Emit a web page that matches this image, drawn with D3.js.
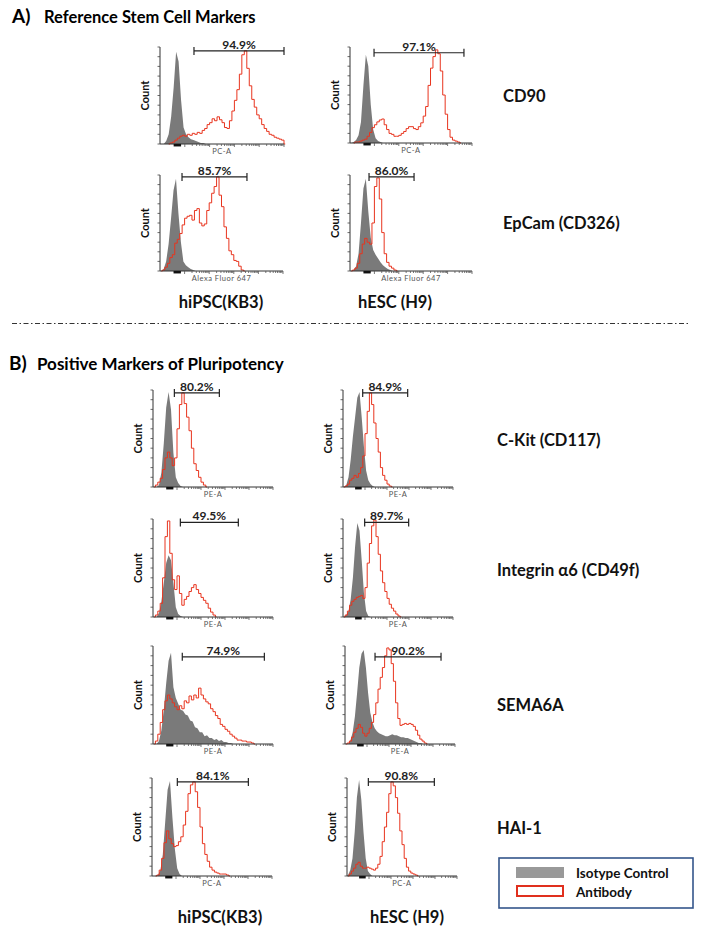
<!DOCTYPE html>
<html><head><meta charset="utf-8">
<script src="https://cdn.jsdelivr.net/npm/d3@7"></script>
<style>body{margin:0;background:#fff}svg{display:block}text{font-family:Lato,"Open Sans",sans-serif}</style>
</head><body><svg id="c" width="704" height="934"></svg>
<script>
// ---------- data ----------
const markers = ["CD90","EpCam (CD326)","C-Kit (CD117)","Integrin \u03b16 (CD49f)","SEMA6A","HAI-1"];
const cellLines = ["hiPSC(KB3)","hESC (H9)"];
const panelTitles = ["Reference Stem Cell Markers","Positive Markers of Pluripotency"];
const legendLabels = ["Isotype Control","Antibody"];
const axisLabels = ["PC-A","PC-A","Alexa Fluor 647","Alexa Fluor 647","PE-A","PE-A","PE-A","PE-A","PE-A","PE-A","PC-A","PC-A"];
const gateLabels = ["94.9%","97.1%","85.7%","86.0%","80.2%","84.9%","49.5%","89.7%","74.9%","90.2%","84.1%","90.8%"];
const gateRanges = [[27.4,100],[19.7,93.4],[17.9,70.7],[15.6,52.5],[17.8,55.3],[17.9,58.8],[22.8,71.1],[19.7,59.7],[24.4,92.8],[27.3,87.3],[21.1,80.3],[19.4,79.4]];
const gateLevels = [96,94,98,98,97,97,96.5,96.5,89,89,96,96];

// histogram counts (% of max), 50 bins of equal width across each axis
const isoA1 = [0,0,3,10,28,58,95,85,45,17,10,7,5,4,3,2,1,1];
const abA1  = [0,0,0,0,1,2,4,6,8,9,8,10,9,11,10,12,11,14,16,20,22,26,24,28,25,22,17,16,24,34,45,56,72,92,96,78,60,46,38,30,26,20,16,13,10,9,7,6,5,4];
const isoA2 = [0,1,3,8,22,60,92,80,40,14,5,2,1];
const abA2  = [0,0,1,1,2,3,4,7,11,16,19,22,24,25,19,14,10,9,7,7,8,10,12,15,17,17,15,14,17,21,28,38,60,78,90,97,93,75,50,30,14,6,3,2,1];
const isoA3 = [0,2,10,28,55,84,96,60,30,10,6,4,2,1];
const abA3  = [0,1,4,8,14,17,29,33,39,48,55,57,58,53,63,65,50,47,49,63,71,81,88,98,79,67,46,34,21,17,11,10,5,1];
const isoA4 = [0,1,5,18,50,86,96,62,35,22,17,13,9,6,4,2,1];
const abA4  = [0,1,3,8,18,28,34,30,28,50,88,97,75,40,18,9,5,3,1];
const isoB1 = [0,0,2,15,45,82,98,80,35,10,4,1];
const abB1  = [0,2,5,9,18,30,36,30,22,30,60,85,97,86,72,58,40,24,17,10,5,2];
const isoB2 = [0,2,10,28,52,72,92,98,72,42,17,7,3,1];
const abB2  = [0,1,3,7,9,12,10,14,20,32,55,78,97,85,66,50,36,20,12,7,3,1];
const isoB3 = [0,0,4,16,35,55,63,58,35,10,3,1];
const abB3  = [0,2,6,14,40,82,98,65,38,28,42,24,12,18,21,26,30,33,28,24,20,17,14,9,5,2];
const isoB4 = [0,2,6,18,40,72,96,88,58,25,6,1];
const abB4  = [0,2,6,12,16,18,20,21,22,19,30,55,75,93,99,82,64,47,35,26,19,13,9,6,3,1];
const isoB5 = [0,0,3,14,35,62,85,93,58,47,41,35,34,30,29,24,23,17,16,12,12,8,9,6,6,4,5,3,4,2,2,1,1];
const abB5  = [0,3,10,22,35,44,50,46,42,38,35,39,36,44,42,49,45,50,47,57,50,46,43,41,36,33,29,26,20,18,15,13,10,8,6,4,4,3,3,2,2,1];
const isoB6 = [0,0,4,12,28,52,78,92,96,78,52,32,22,16,13,11,10,9,8,8,9,10,9,9,8,7,7,6,6,5,4,3,2,1,1];
const abB6  = [0,1,3,7,12,16,20,17,11,8,11,16,22,30,42,56,68,78,90,98,96,82,64,42,26,19,20,21,20,21,20,18,14,9,5,3,1];
const isoB7 = [0,0,1,6,22,55,88,97,60,28,8,2];
const abB7  = [0,0,1,6,18,34,46,38,33,30,31,35,40,52,66,84,93,96,86,70,50,33,22,15,9,6,4,3,2,2,2,1];
const isoB8 = [1,6,18,45,80,98,78,45,18,5,2];
const abB8  = [0,2,5,8,12,14,10,8,8,9,8,7,6,8,12,20,35,50,65,84,96,92,80,64,46,32,18,9,5,3,2,1];

const isoSeries = [isoA1,isoA2,isoA3,isoA4,isoB1,isoB2,isoB3,isoB4,isoB5,isoB6,isoB7,isoB8];
const abSeries  = [abA1,abA2,abA3,abA4,abB1,abB2,abB3,abB4,abB5,abB6,abB7,abB8];

// ---------- layout ----------
const frames = [
  {x:160,y:47,w:124,h:97},{x:350,y:47,w:122,h:96},
  {x:160,y:175,w:123,h:96},{x:350,y:175,w:122,h:96},
  {x:153,y:390,w:120,h:97},{x:343,y:390,w:110,h:97},
  {x:153,y:519,w:120,h:98},{x:343,y:519,w:110,h:98},
  {x:153,y:646,w:120,h:98},{x:345,y:646,w:110,h:98},
  {x:152,y:778,w:120,h:98},{x:347,y:778,w:110,h:98}
];
const NB = 50, BW = 2;
const GRAY = "#7a7a7a", RED = "#e8341e";
const svg = d3.select("#c");

function pad(arr){ const a = arr.slice(); while(a.length<NB) a.push(0); return a; }

frames.forEach((f,k)=>{
  const g = svg.append("g");
  const x = d3.scaleLinear().domain([0,100]).range([f.x,f.x+f.w]);
  const y = d3.scaleLinear().domain([0,100]).range([f.y+f.h,f.y]);
  const iso = pad(isoSeries[k]).map((v,i)=>({b:i*BW+BW/2,v}));
  const isoPts = [{b:0,v:0}].concat(iso);
  g.append("path").datum(isoPts)
    .attr("d", d3.area().x(d=>x(d.b)).y0(y(0)).y1(d=>y(d.v)).curve(d3.curveLinear))
    .attr("fill",GRAY);
  // antibody line (trim zero runs at ends)
  const ab = abSeries[k].map((v,i)=>({b:i*BW+BW/2,v}));
  let s=0; while(s<ab.length-1 && ab[s+1].v===0) s++;
  const abPts = ab.slice(s).concat([{b:ab.length*BW+BW/2,v:0}]);
  g.append("path").datum(abPts)
    .attr("d", d3.line().x(d=>x(d.b)).y(d=>y(d.v)).curve(d3.curveStep))
    .attr("fill","none").attr("stroke",RED).attr("stroke-width",1);

  // y axis
  g.append("line").attr("x1",x(0)).attr("x2",x(0)).attr("y1",y(0)).attr("y2",y(100)).attr("stroke","#333").attr("stroke-width",1);
  d3.range(0,101,10).forEach(t=>{
    g.append("line").attr("x1",x(0)-2.5).attr("x2",x(0)).attr("y1",y(t)).attr("y2",y(t)).attr("stroke","#444").attr("stroke-width",0.8);
  });
  // x axis
  g.append("line").attr("x1",x(0)).attr("x2",x(100)).attr("y1",y(0)).attr("y2",y(0)).attr("stroke","#333").attr("stroke-width",1);
  g.append("line").attr("x1",x(11)).attr("x2",x(17)).attr("y1",y(0)+1.2).attr("y2",y(0)+1.2).attr("stroke","#111").attr("stroke-width",2.5);
  const ticks=[];
  for(let d=0; d<4; d++){ for(let m=1;m<10;m++){ ticks.push({u:20+d*20+20*Math.log10(m),maj:m===1}); } }
  ticks.push({u:100,maj:true});
  ticks.forEach(t=>{
    g.append("line").attr("x1",x(t.u)).attr("x2",x(t.u)).attr("y1",y(0)).attr("y2",y(0)+(t.maj?3:2))
      .attr("stroke","#555").attr("stroke-width",0.8);
  });
  // axis labels
  g.append("text").attr("x",x(0)+f.w*0.5).attr("y",y(0)+10).attr("text-anchor","middle")
    .attr("font-size",7.5).attr("fill","#555").attr("letter-spacing",0.5).text(axisLabels[k]);
  g.append("text").attr("transform",`translate(${x(0)-11},${f.y+f.h/2}) rotate(-90)`).attr("text-anchor","middle")
    .attr("font-size",11).attr("font-weight","bold").attr("fill","#111").text("Count");
  // gate
  const [g0,g1]=gateRanges[k], gy=y(gateLevels[k]);
  g.append("line").attr("x1",x(g0)).attr("x2",x(g1)).attr("y1",gy).attr("y2",gy).attr("stroke","#222").attr("stroke-width",1.2);
  [g0,g1].forEach(u=>g.append("line").attr("x1",x(u)).attr("x2",x(u)).attr("y1",gy-4).attr("y2",gy+4).attr("stroke","#222").attr("stroke-width",1.2));
  g.append("text").attr("x",x((g0+g1)/2)).attr("y",gy-2).attr("text-anchor","middle")
    .attr("font-size",12).attr("font-weight","bold").attr("fill","#222").text(gateLabels[k]);
});

// titles
svg.append("text").attr("x",12).attr("y",23).attr("font-size",19).attr("font-weight","bold").text("A)");
svg.append("text").attr("x",44).attr("y",23).attr("font-size",16.5).attr("font-weight","bold").text(panelTitles[0]);
svg.append("text").attr("x",9).attr("y",370).attr("font-size",19).attr("font-weight","bold").text("B)");
svg.append("text").attr("x",37).attr("y",370).attr("font-size",17).attr("font-weight","bold").text(panelTitles[1]);

// marker labels
const markerY = [102,229,446,576,711,834];
markers.forEach((m,i)=>{
  svg.append("text").attr("x",i<2?503:497).attr("y",markerY[i]).attr("font-size",16.5).attr("font-weight","bold").attr("fill","#111").text(m);
});
// cell line labels
[[221,308],[395,308],[220,923],[407,923]].forEach((p,i)=>{
  svg.append("text").attr("x",p[0]).attr("y",p[1]).attr("text-anchor","middle").attr("font-size",16.5).attr("font-weight","bold").attr("fill","#111").text(cellLines[i%2]);
});

// separator
svg.append("line").attr("x1",12).attr("x2",690).attr("y1",323.5).attr("y2",323.5).attr("stroke","#333").attr("stroke-width",1).attr("stroke-dasharray","5,2.5,1.5,2.5");

// legend
svg.append("rect").attr("x",499).attr("y",858).attr("width",194).attr("height",50).attr("fill","none").attr("stroke","#34558b").attr("stroke-width",1.6);
svg.append("rect").attr("x",516).attr("y",867).attr("width",48).attr("height",11).attr("fill","#999");
svg.append("rect").attr("x",517).attr("y",886).attr("width",46).attr("height",10).attr("fill","#fff").attr("stroke","#e0301e").attr("stroke-width",2);
svg.append("text").attr("x",576).attr("y",877.5).attr("font-size",13.5).attr("font-weight","bold").attr("fill","#111").text(legendLabels[0]);
svg.append("text").attr("x",576).attr("y",897).attr("font-size",13.5).attr("font-weight","bold").attr("fill","#111").text(legendLabels[1]);
</script></body></html>
